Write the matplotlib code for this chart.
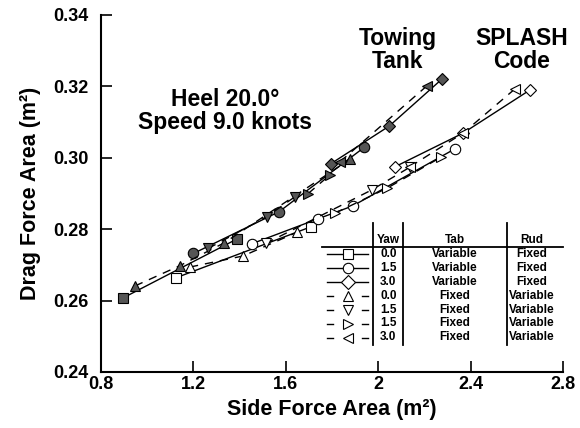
import matplotlib
matplotlib.use("Agg")
import matplotlib.pyplot as plt

plt.rcParams['font.family'] = ['Liberation Sans', 'DejaVu Sans']
plt.rcParams['font.weight'] = 'bold'

# ---------------- data ----------------
# Towing tank (filled markers)
tt_sq_x = [0.897, 1.387]
tt_sq_y = [0.2608, 0.2772]
tt_ci_x = [1.200, 1.571, 1.939]
tt_ci_y = [0.2732, 0.2849, 0.3029]
tt_di_x = [1.794, 2.048, 2.275]
tt_di_y = [0.2983, 0.3089, 0.3220]
tt_up_x = [0.947, 1.142, 1.334, 1.878]
tt_up_y = [0.2641, 0.2698, 0.2762, 0.2996]
tt_dn_x = [1.264, 1.517, 1.640]
tt_dn_y = [0.2746, 0.2835, 0.2891]
tt_rt_x = [1.697, 1.791]
tt_rt_y = [0.2900, 0.2952]
tt_lt_x = [1.835, 2.210]
tt_lt_y = [0.2989, 0.3201]

# SPLASH code (open markers)
sp_sq_x = [1.125, 1.710]
sp_sq_y = [0.2664, 0.2807]
sp_ci_x = [1.452, 1.739, 1.889, 2.332]
sp_ci_y = [0.2759, 0.2829, 0.2865, 0.3025]
sp_di_x = [2.073, 2.367, 2.657]
sp_di_y = [0.2975, 0.3069, 0.3190]
sp_up_x = [1.185, 1.415, 1.647]
sp_up_y = [0.2694, 0.2725, 0.2791]
sp_dn_x = [1.513, 1.972, 2.138]
sp_dn_y = [0.2760, 0.2910, 0.2974]
sp_rt_x = [1.813, 2.039, 2.270]
sp_rt_y = [0.2845, 0.2915, 0.3001]
sp_lt_x = [2.138, 2.367, 2.592]
sp_lt_y = [0.2975, 0.3069, 0.3193]

legend_yaw = ['0.0', '1.5', '3.0', '0.0', '1.5', '1.5', '3.0']
legend_tab = ['Variable', 'Variable', 'Variable', 'Fixed', 'Fixed', 'Fixed', 'Fixed']
legend_rud = ['Fixed', 'Fixed', 'Fixed', 'Variable', 'Variable', 'Variable', 'Variable']
legend_mk = ['s', 'o', 'D', '^', 'v', '>', '<']
legend_ls = ['-', '-', '-', '--', '--', '--', '--']

x_ticks = [0.8, 1.2, 1.6, 2.0, 2.4, 2.8]
x_tick_labels = ['0.8', '1.2', '1.6', '2', '2.4', '2.8']
y_ticks = [0.24, 0.26, 0.28, 0.30, 0.32, 0.34]
y_tick_labels = ['0.24', '0.26', '0.28', '0.30', '0.32', '0.34']

# ---------------- figure ----------------
W, H = 580, 428
fig = plt.figure(figsize=(W / 100, H / 100), dpi=100)
ax = fig.add_axes([101 / W, (H - 372) / H, (563 - 101) / W, (372 - 15) / H])
ax.set_xlim(0.8, 2.8)
ax.set_ylim(0.24, 0.34)

fill = '#555555'
series = [
    (tt_sq_x, tt_sq_y, 's', '-', fill), (tt_ci_x, tt_ci_y, 'o', '-', fill),
    (tt_di_x, tt_di_y, 'D', '-', fill), (tt_up_x, tt_up_y, '^', '--', fill),
    (tt_dn_x, tt_dn_y, 'v', '--', fill), (tt_rt_x, tt_rt_y, '>', '--', fill),
    (tt_lt_x, tt_lt_y, '<', '--', fill),
    (sp_sq_x, sp_sq_y, 's', '-', 'white'), (sp_ci_x, sp_ci_y, 'o', '-', 'white'),
    (sp_di_x, sp_di_y, 'D', '-', 'white'), (sp_up_x, sp_up_y, '^', '--', 'white'),
    (sp_dn_x, sp_dn_y, 'v', '--', 'white'), (sp_rt_x, sp_rt_y, '>', '--', 'white'),
    (sp_lt_x, sp_lt_y, '<', '--', 'white'),
]
for xs, ys, mk, ls, fc in series:
    ms = 6.5 if mk == 'D' else 7.5
    if mk == 's':
        ms = 7
    ax.plot(xs, ys, color='black', lw=1.0, ls=ls, dashes=(6, 5) if ls == '--' else (None, None),
            marker=mk, ms=ms, mfc=fc, mec='black', mew=0.8)

for s in ['top', 'right']:
    ax.spines[s].set_visible(False)
for s in ['left', 'bottom']:
    ax.spines[s].set_linewidth(1.5)
ax.set_xticks(x_ticks)
ax.set_xticklabels(x_tick_labels)
ax.set_yticks(y_ticks)
ax.set_yticklabels(y_tick_labels)
ax.tick_params(direction='in', length=8, width=1.2, labelsize=13)
ax.tick_params(axis='y', pad=9)
ax.tick_params(axis='x', pad=3)
for lab in ax.get_xticklabels() + ax.get_yticklabels():
    lab.set_fontweight('bold')
ax.set_xlabel('Side Force Area (m\u00b2)', fontsize=15.5, fontweight='bold', labelpad=4)
ax.set_ylabel('Drag Force Area (m\u00b2)', fontsize=15.5, fontweight='bold', labelpad=9)

# annotations (pixel -> figure fraction)
def ft(x, y, s, **kw):
    fig.text(x / W, 1 - y / H, s, ha='center', va='center', fontweight='bold', **kw)

ft(225, 111, 'Heel 20.0\u00b0\nSpeed 9.0 knots', fontsize=16.5, linespacing=0.95)
ft(398, 50, 'Towing\nTank', fontsize=16.5, linespacing=1.0)
ft(522, 50, 'SPLASH\nCode', fontsize=16.5, linespacing=1.0)

# legend table (drawn in pixel space)
def fl(xs, ys, **kw):
    fig.add_artist(plt.Line2D([x / W for x in xs], [1 - y / H for y in ys], color='black', **kw))

fl([373.3, 373.3], [222.7, 345], lw=1.3)
fl([403.3, 403.3], [222.7, 345], lw=1.3)
fl([506.7, 506.7], [222.7, 345], lw=1.3)
fl([321.7, 562.7], [246.7, 246.7], lw=1.3)
fs = 8.5
ft(388.3, 240, 'Yaw', fontsize=fs)
ft(455, 240, 'Tab', fontsize=fs)
ft(532, 240, 'Rud', fontsize=fs)
row_y = [254, 268, 282, 296, 310, 323.5, 337.5]
for i, ry in enumerate(row_y):
    if legend_ls[i] == '-':
        fl([326.7, 368.3], [ry, ry], lw=1.0)
    else:
        fl([326.7, 333], [ry, ry], lw=1.0)
        fl([362, 368.3], [ry, ry], lw=1.0)
    fig.add_artist(plt.Line2D([348 / W], [1 - ry / H], marker=legend_mk[i], ms=7.5, mfc='white',
                              mec='black', mew=0.8, ls='none'))
    ft(388.3, ry, legend_yaw[i], fontsize=fs)
    ft(455, ry, legend_tab[i], fontsize=fs)
    ft(532, ry, legend_rud[i], fontsize=fs)

fig.savefig('out.png', dpi=100)
